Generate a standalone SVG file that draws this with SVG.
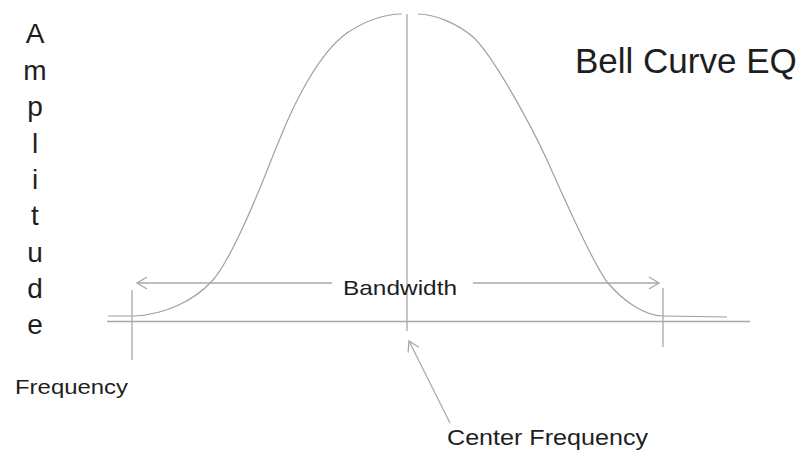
<svg xmlns="http://www.w3.org/2000/svg" width="803" height="455" viewBox="0 0 803 455">
<style>
.ln{fill:none;stroke:#a8a8a8;stroke-width:1.3}
.cv{fill:none;stroke:#a0a0a0;stroke-width:1.2}
.t{font-family:"Liberation Sans",Arial,sans-serif;fill:#1e1e1e}
.amp{font-size:28px;text-anchor:middle}
</style>
<defs>
<marker id="ah" markerWidth="14" markerHeight="14" refX="12" refY="7" orient="auto" markerUnits="userSpaceOnUse">
<path d="M2,1 L12,7 L2,13" fill="none" stroke="#a8a8a8" stroke-width="1.3"/>
</marker>
</defs>
<rect width="803" height="455" fill="#fff"/>
<g id="curve">
<path class="cv" d="M108,316 L133,316 C165,315 195,300 212,281 C230,262 258,194 270,163 C282,133 292,108 307,82 C318,63 330,45 347,33 C365,21 385,14 402,14"/>
<path class="cv" d="M418,14 C435,14 458,24 473,37 C493,55 532,127 547,160 C562,193 593,265 608,283 C623,301 645,316 663,316 L727,317"/>
</g>
<g id="connectors">
<path class="ln" d="M107,321.5 L750,321.5"/>
<path class="ln" d="M407,14 L407,331"/>
<path class="ln" d="M132,290 L132,360"/>
<path class="ln" d="M663,288 L663,347"/>
<path class="ln" d="M332,283 L137,283" marker-end="url(#ah)"/>
<path class="ln" d="M473,283 L659,283" marker-end="url(#ah)"/>
<path class="ln" d="M450,423 L409,341" marker-end="url(#ah)"/>
</g>
<g id="title"><text class="t" x="575" y="73" font-size="35">Bell Curve EQ</text></g>
<g id="bandwidth"><text class="t" x="343" y="295" font-size="21" textLength="114" lengthAdjust="spacingAndGlyphs">Bandwidth</text></g>
<g id="frequency"><text class="t" x="15" y="394" font-size="21" textLength="113" lengthAdjust="spacingAndGlyphs">Frequency</text></g>
<g id="center-frequency"><text class="t" x="447" y="445" font-size="22" textLength="201" lengthAdjust="spacingAndGlyphs">Center Frequency</text></g>
<g id="amplitude" class="t amp">
<text x="35" y="43">A</text>
<text x="35" y="80">m</text>
<text x="35" y="116">p</text>
<text x="35" y="153">l</text>
<text x="35" y="189">i</text>
<text x="35" y="225">t</text>
<text x="35" y="262">u</text>
<text x="35" y="298">d</text>
<text x="35" y="334">e</text>
</g>
</svg>
